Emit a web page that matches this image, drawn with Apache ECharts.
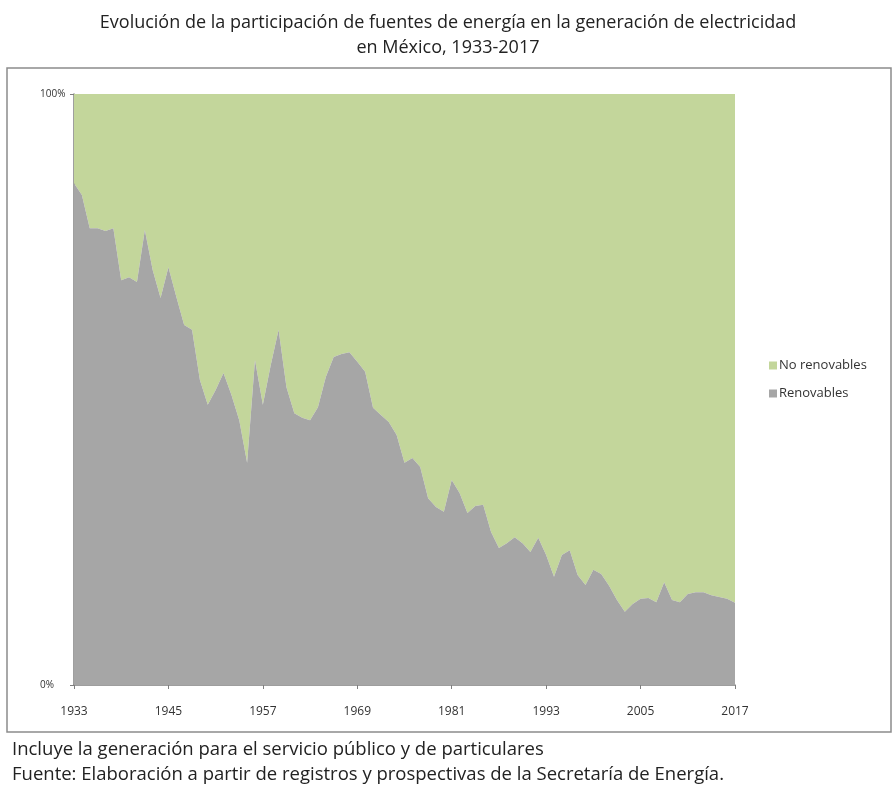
<!DOCTYPE html>
<html>
<head>
<meta charset="utf-8">
<script src="https://cdn.jsdelivr.net/npm/echarts@6/dist/echarts.min.js"></script>
<style>
  html, body { margin: 0; padding: 0; background: #ffffff; }
  #chart { width: 896px; height: 794px; }
</style>
</head>
<body>
<div id="chart"></div>
<script>
// Years 1933-2017
const years = [];
for (let y = 1933; y <= 2017; y++) years.push(String(y));

// Share of renewable sources in electricity generation (%)
const renovables = [
  84.9, 82.9, 77.3, 77.3, 76.8, 77.3, 68.5, 69.0, 68.2, 77.0,
  70.2, 65.5, 70.7, 65.7, 60.9, 60.1, 51.6, 47.4, 49.9, 52.8,
  49.1, 44.8, 37.6, 55.0, 47.4, 54.1, 60.1, 50.4, 46.0, 45.2,
  44.8, 47.0, 52.1, 55.5, 56.0, 56.3, 54.7, 53.0, 46.9, 45.7,
  44.5, 42.3, 37.6, 38.4, 36.9, 31.6, 30.1, 29.3, 34.7, 32.5,
  29.1, 30.3, 30.5, 25.9, 23.2, 24.0, 25.0, 24.0, 22.5, 24.9,
  22.0, 18.3, 22.0, 22.8, 18.6, 16.9, 19.5, 18.8, 16.8, 14.4,
  12.4, 13.7, 14.6, 14.7, 14.0, 17.4, 14.4, 14.0, 15.4, 15.7,
  15.7, 15.2, 14.9, 14.6, 13.9
];

// Share of non-renewable sources (%)
const noRenovables = [
  15.1, 17.1, 22.7, 22.7, 23.2, 22.7, 31.5, 31.0, 31.8, 23.0,
  29.8, 34.5, 29.3, 34.3, 39.1, 39.9, 48.4, 52.6, 50.1, 47.2,
  50.9, 55.2, 62.4, 45.0, 52.6, 45.9, 39.9, 49.6, 54.0, 54.8,
  55.2, 53.0, 47.9, 44.5, 44.0, 43.7, 45.3, 47.0, 53.1, 54.3,
  55.5, 57.7, 62.4, 61.6, 63.1, 68.4, 69.9, 70.7, 65.3, 67.5,
  70.9, 69.7, 69.5, 74.1, 76.8, 76.0, 75.0, 76.0, 77.5, 75.1,
  78.0, 81.7, 78.0, 77.2, 81.4, 83.1, 80.5, 81.2, 83.2, 85.6,
  87.6, 86.3, 85.4, 85.3, 86.0, 82.6, 85.6, 86.0, 84.6, 84.3,
  84.3, 84.8, 85.1, 85.4, 86.1
];

const titleLines = [
  'Evolución de la participación de fuentes de energía en la generación de electricidad',
  'en México, 1933-2017'
];
const notes = [
  'Incluye la generación para el servicio público y de particulares',
  'Fuente: Elaboración a partir de registros y prospectivas de la Secretaría de Energía.'
];

const FONT = 'Open Sans';
const chart = echarts.init(document.getElementById('chart'), null, { renderer: 'canvas' });

chart.setOption({
  backgroundColor: '#ffffff',
  animation: false,
  title: {
    text: titleLines.join('\n'),
    left: 'center',
    top: 5,
    textStyle: {
      fontFamily: FONT,
      fontSize: 18,
      fontWeight: 'normal',
      color: '#222222',
      lineHeight: 25
    }
  },
  legend: {
    orient: 'vertical',
    left: 764,
    top: 352,
    itemWidth: 8,
    itemHeight: 8,
    itemGap: 11,
    icon: 'rect',
    data: ['No renovables', 'Renovables'],
    textStyle: { fontFamily: FONT, fontSize: 13, color: '#333333', padding: [0, 0, 0, -3], lineHeight: 17 }
  },
  grid: { left: 74, right: 161, top: 94, bottom: 109, containLabel: false },
  xAxis: {
    type: 'category',
    data: years,
    boundaryGap: false,
    axisLine: { lineStyle: { color: '#7f7f7f', width: 1.5 } },
    axisTick: { interval: 11, length: 4, lineStyle: { color: '#7f7f7f' } },
    axisLabel: {
      interval: 11,
      fontFamily: FONT,
      fontSize: 12,
      color: '#333333',
      margin: 21
    },
    splitLine: { show: false }
  },
  yAxis: {
    type: 'value',
    min: 0,
    max: 100,
    interval: 100,
    axisLine: { show: true, lineStyle: { color: '#7f7f7f', width: 1.5 } },
    axisTick: { show: true, length: 4, lineStyle: { color: '#7f7f7f' } },
    axisLabel: {
      fontFamily: FONT,
      fontSize: 10,
      color: '#333333',
      margin: 34,
      align: 'left',
      formatter: v => v + '%'
    },
    splitLine: { show: false }
  },
  series: [
    {
      name: 'Renovables',
      type: 'line',
      stack: 'total',
      data: renovables,
      symbol: 'none',
      lineStyle: { width: 0 },
      areaStyle: { color: '#a6a6a6', opacity: 1 },
      itemStyle: { color: '#a6a6a6' },
      z: 2
    },
    {
      name: 'No renovables',
      type: 'line',
      stack: 'total',
      data: noRenovables,
      symbol: 'none',
      lineStyle: { width: 0 },
      areaStyle: { color: '#c3d69b', opacity: 1 },
      itemStyle: { color: '#c3d69b' },
      z: 1
    }
  ],
  graphic: [
    {
      type: 'rect',
      shape: { x: 7, y: 68, width: 884, height: 664 },
      style: { fill: 'none', stroke: '#8c8c8c', lineWidth: 1.5 },
      silent: true
    },
    {
      type: 'text',
      left: 12,
      top: 740,
      style: { text: notes[0], font: '18.5px "Open Sans"', fill: '#222222' }
    },
    {
      type: 'text',
      left: 12,
      top: 765,
      style: { text: notes[1], font: '18.5px "Open Sans"', fill: '#222222' }
    }
  ]
});
</script>
</body>
</html>
